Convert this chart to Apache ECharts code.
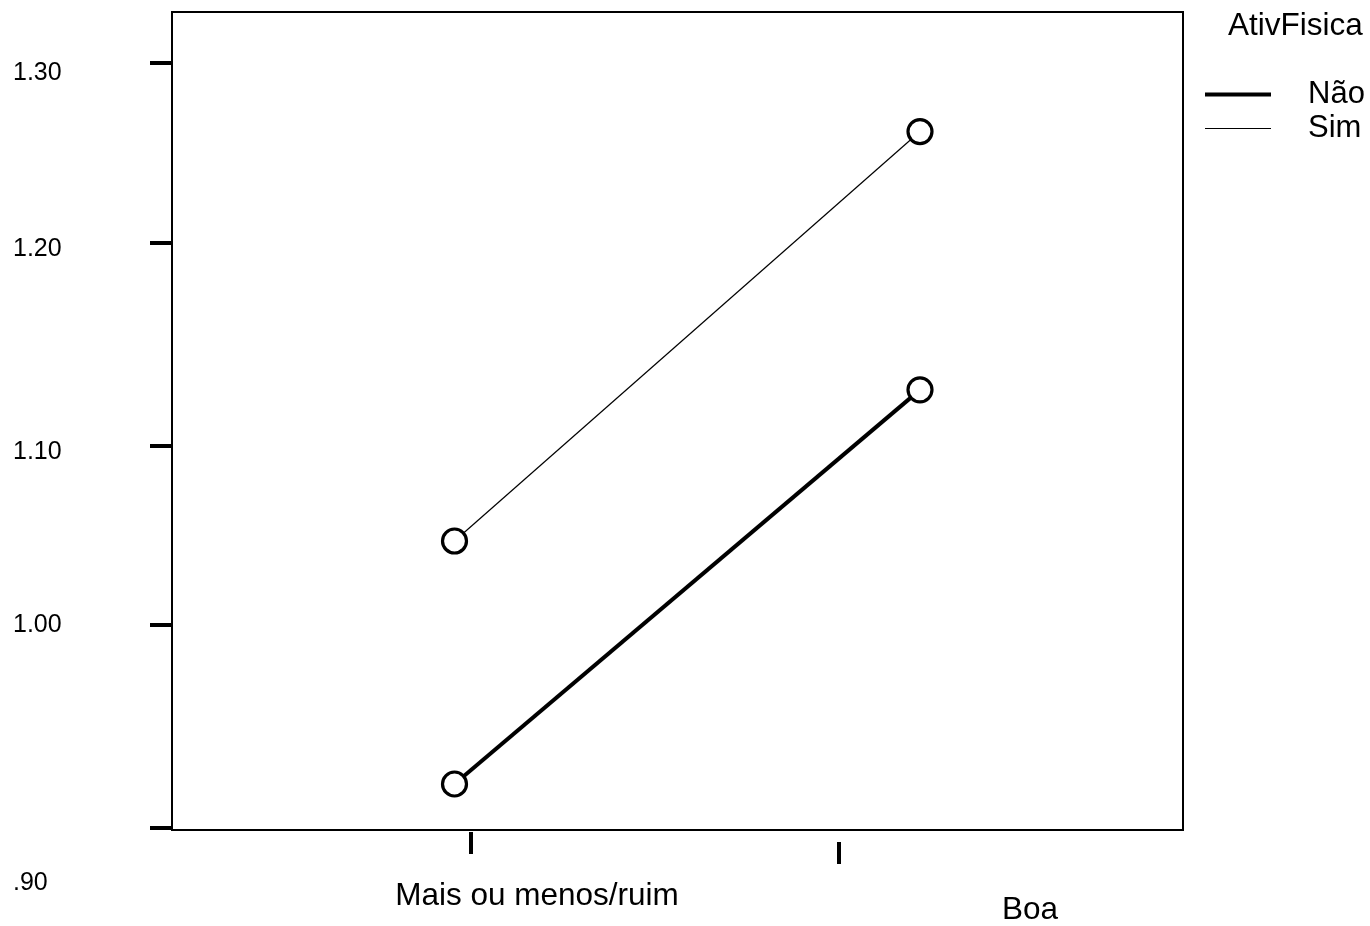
<!DOCTYPE html>
<html>
<head>
<meta charset="utf-8">
<script src="https://cdn.jsdelivr.net/npm/echarts@6/dist/echarts.min.js"></script>
<style>html,body{margin:0;padding:0;background:#fff}#c{width:1370px;height:926px}</style>
</head>
<body>
<div id="c"></div>
<script>
// ---------------- data ----------------
const categories = ['Mais ou menos/ruim', 'Boa'];
const seriesNames = ['Não', 'Sim'];
const naoValues = [0.923, 1.129];
const simValues = [1.050, 1.264];
const yTickValues = [0.90, 1.00, 1.10, 1.20, 1.30];
const yTickLabels = ['.90', '1.00', '1.10', '1.20', '1.30'];
const legendTitle = 'AtivFisica';

// ---------------- layout ----------------
const W = 1370, H = 926;
const FONT = '"Liberation Sans", Arial, Helvetica, sans-serif';
const PLOT = { left: 172, top: 12, right: 1183, bottom: 835 };
// linear y scale: .90 at px 833, 1.30 at px 63
const yRef = { v0: 0.9, p0: 833, v1: 1.3, p1: 63 };
const yPxPerUnit = (yRef.p0 - yRef.p1) / (yRef.v1 - yRef.v0);
const yValAt = py => yRef.v0 + (yRef.p0 - py) / yPxPerUnit;
// x scale: category index 0 at px 454.5, 1 at px 920
const xCatPx = [454.5, 920];
const xPxPerUnit = xCatPx[1] - xCatPx[0];
const xValAt = px => (px - xCatPx[0]) / xPxPerUnit;

// SPSS-style irregular placement of ticks / labels (pixels, positive = up / right)
const yTickShiftPx = [0, 12.5, 0, 11.5, 0];
const yLabelShiftPx = [-50, 15.5, -4, 6.5, -10];
const xTickShiftPx = [16, -81];
const xTickOffsetPx = [2, 12];
const xLabelShiftPx = [82.5, 110];
const xLabelMargin = [48, 52];

const yTickPos = yTickValues.map((v, i) => v + yTickShiftPx[i] / yPxPerUnit);
const yLabelPos = yTickValues.map((v, i) => v + yLabelShiftPx[i] / yPxPerUnit);
function nearestIdx(arr, val) {
  let b = 0;
  arr.forEach((a, i) => { if (Math.abs(a - val) < Math.abs(arr[b] - val)) b = i; });
  return b;
}

const xMin = xValAt(PLOT.left), xMax = xValAt(PLOT.right);

function catAxis(i) {
  const tickV = i + xTickShiftPx[i] / xPxPerUnit;
  const labV = i + xLabelShiftPx[i] / xPxPerUnit;
  return {
    type: 'value', gridIndex: 0, position: 'bottom', offset: xTickOffsetPx[i],
    min: xMin, max: xMax,
    axisLine: { show: false, onZero: false },
    splitLine: { show: false },
    axisTick: { show: true, inside: false, length: 22, customValues: [tickV],
      lineStyle: { color: '#000', width: 4 } },
    axisLabel: { show: true, customValues: [labV], margin: xLabelMargin[i],
      formatter: () => categories[i],
      color: '#000', fontSize: 31.5, fontFamily: FONT }
  };
}

const ptsStyle = { color: '#fff', borderColor: '#000', borderWidth: 3.2, opacity: 1 };

const option = {
  backgroundColor: '#fff',
  animation: false,
  title: {
    text: legendTitle, left: 1228, top: 8, padding: 0,
    textStyle: { color: '#000', fontSize: 31.5, lineHeight: 36, fontWeight: 'normal', fontFamily: FONT }
  },
  legend: {
    orient: 'vertical', left: 1205, top: 79, padding: 0,
    itemWidth: 66, itemHeight: 14, itemGap: 3,
    symbolKeepAspect: true,
    itemStyle: { borderWidth: 0 },
    selectedMode: false,
    data: [
      { name: seriesNames[0], icon: 'path://M0 0H66V4H0Z' },
      { name: seriesNames[1], icon: 'path://M0 0H66V1H0Z' }
    ],
    textStyle: { color: '#000', fontSize: 31, lineHeight: 30, fontFamily: FONT, padding: [0, 0, 0, 32] }
  },
  grid: [
    { left: PLOT.left, top: PLOT.top, width: PLOT.right - PLOT.left, height: PLOT.bottom - PLOT.top,
      show: true, borderColor: '#000', borderWidth: 2, backgroundColor: 'transparent' },
    { left: PLOT.left, top: PLOT.top, width: PLOT.right - PLOT.left, height: H - PLOT.top, show: false }
  ],
  xAxis: [
    catAxis(0),
    catAxis(1),
    { type: 'value', gridIndex: 1, min: 0, max: 1, show: false }
  ],
  yAxis: [
    { type: 'value', gridIndex: 0, position: 'left', min: yValAt(PLOT.bottom), max: yValAt(PLOT.top),
      axisLine: { show: false, onZero: false }, splitLine: { show: false },
      axisTick: { show: true, inside: false, length: 22, customValues: yTickPos,
        lineStyle: { color: '#000', width: 4 } },
      axisLabel: { show: false } },
    { type: 'value', gridIndex: 1, position: 'left', min: yValAt(H), max: yValAt(PLOT.top),
      axisLine: { show: false, onZero: false }, splitLine: { show: false }, axisTick: { show: false },
      axisLabel: { show: true, customValues: yLabelPos, margin: 159, align: 'left',
        formatter: v => yTickLabels[nearestIdx(yLabelPos, v)],
        color: '#000', fontSize: 25, fontFamily: FONT } }
  ],
  series: [
    { name: seriesNames[0], type: 'line', xAxisIndex: 0, yAxisIndex: 0, symbol: 'none',
      data: categories.map((c, i) => [i, naoValues[i]]),
      lineStyle: { color: '#000', width: 4 }, itemStyle: { color: '#000' }, z: 2 },
    { name: seriesNames[1], type: 'line', xAxisIndex: 0, yAxisIndex: 0, symbol: 'none',
      data: categories.map((c, i) => [i, simValues[i]]),
      lineStyle: { color: '#000', width: 1.2 }, itemStyle: { color: '#000' }, z: 2 },
    { name: seriesNames[0] + ' pts', type: 'scatter', xAxisIndex: 0, yAxisIndex: 0,
      symbol: 'circle', symbolSize: 24, itemStyle: ptsStyle, z: 3,
      data: categories.map((c, i) => [i, naoValues[i]]) },
    { name: seriesNames[1] + ' pts', type: 'scatter', xAxisIndex: 0, yAxisIndex: 0,
      symbol: 'circle', symbolSize: 24, itemStyle: ptsStyle, z: 3,
      data: categories.map((c, i) => [i, simValues[i]]) }
  ]
};

const chart = echarts.init(document.getElementById('c'), null, { renderer: 'canvas' });
chart.setOption(option);
</script>
</body>
</html>
